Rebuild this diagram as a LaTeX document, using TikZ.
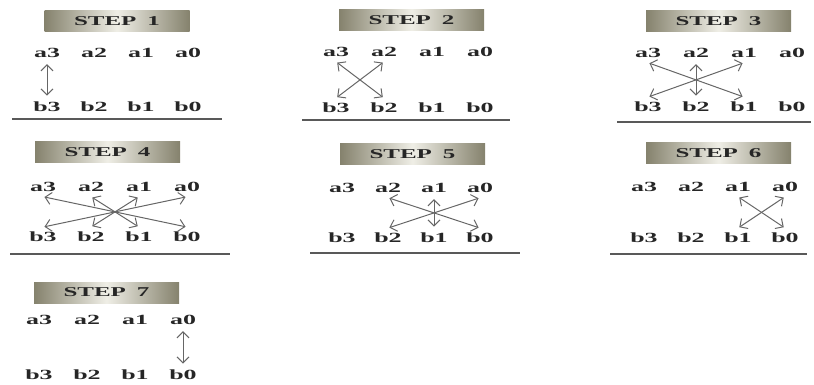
\documentclass[tikz,border=0pt]{standalone}
\usepackage{fontspec}
\usetikzlibrary{arrows.meta}
\newfontfamily\stepfont[FakeStretch=1.85]{Liberation Serif}
\definecolor{boxedge}{HTML}{85826D}
\definecolor{boxmid}{HTML}{EFEEE6}
\definecolor{inkgray}{HTML}{262626}
\definecolor{arrowgray}{HTML}{666666}
\tikzset{
  steptitle/.style={minimum width=145pt,minimum height=21pt,inner sep=0pt,
    left color=boxedge,right color=boxedge,middle color=boxmid,
    font=\stepfont\bfseries\fontsize{13.5}{14}\selectfont,text=inkgray},
  bitlabel/.style={inner sep=1.5pt,outer ysep=3.5pt,
    font=\stepfont\bfseries\fontsize{14}{15}\selectfont,text=inkgray},
  swaparrow/.style={draw=arrowgray,line width=1pt,
    {Straight Barb[length=6pt,width=12pt]}-{Straight Barb[length=6pt,width=12pt]},
    shorten <=1.5pt,shorten >=1.5pt},
  steprule/.style={draw=gray!70!black,line width=1.2pt}
}
\begin{document}
\begin{tikzpicture}[x=1pt,y=-1pt]
  \useasboundingbox (0,0) rectangle (814,385);
  % step 1
  \begin{scope}[xshift=0pt]
    \node[steptitle] (t1) at (117,21) {STEP\hspace{11pt}1};
    \foreach \i/\n in {0/3,1/2,2/1,3/0}{
      \node[bitlabel] (s1a\n) at ({47+47*\i},53) {a\n};
      \node[bitlabel] (s1b\n) at ({47+47*\i},107) {b\n};
    }
    \draw[swaparrow] (s1a3.south) -- (s1b3.north);
    \draw[steprule] (12,119) -- (222,119);
  \end{scope}
  % step 2
  \begin{scope}[xshift=280pt]
    \node[steptitle] (t2) at (131.5,20) {STEP\hspace{11pt}2};
    \foreach \i/\n in {0/3,1/2,2/1,3/0}{
      \node[bitlabel] (s2a\n) at ({56+48*\i},52) {a\n};
      \node[bitlabel] (s2b\n) at ({56+48*\i},108) {b\n};
    }
    \draw[swaparrow] (s2a3.south) -- (s2b2.north);
    \draw[swaparrow] (s2a2.south) -- (s2b3.north);
    \draw[steprule] (22,120) -- (230,120);
  \end{scope}
  % step 3
  \begin{scope}[xshift=540pt]
    \node[steptitle] (t3) at (178.5,21) {STEP\hspace{11pt}3};
    \foreach \i/\n in {0/3,1/2,2/1,3/0}{
      \node[bitlabel] (s3a\n) at ({108+48*\i},53) {a\n};
      \node[bitlabel] (s3b\n) at ({108+48*\i},107) {b\n};
    }
    \draw[swaparrow] (s3a3.south) -- (s3b1.north);
    \draw[swaparrow] (s3a1.south) -- (s3b3.north);
    \draw[swaparrow] (s3a2.south) -- (s3b2.north);
    \draw[steprule] (77,122) -- (271,122);
  \end{scope}
  % step 4
  \begin{scope}[xshift=0pt]
    \node[steptitle] (t4) at (107.5,152.5) {STEP\hspace{11pt}4};
    \foreach \i/\n in {0/3,1/2,2/1,3/0}{
      \node[bitlabel] (s4a\n) at ({43+48*\i},187) {a\n};
      \node[bitlabel] (s4b\n) at ({43+48*\i},237) {b\n};
    }
    \draw[swaparrow] (s4a3.south) -- (s4b0.north);
    \draw[swaparrow] (s4a0.south) -- (s4b3.north);
    \draw[swaparrow] (s4a2.south) -- (s4b1.north);
    \draw[swaparrow] (s4a1.south) -- (s4b2.north);
    \draw[steprule] (10,254) -- (230,254);
  \end{scope}
  % step 5
  \begin{scope}[xshift=280pt]
    \node[steptitle] (t5) at (132.5,154) {STEP\hspace{11pt}5};
    \foreach \i/\n in {0/3,1/2,2/1,3/0}{
      \node[bitlabel] (s5a\n) at ({62+46*\i},188) {a\n};
      \node[bitlabel] (s5b\n) at ({62+46*\i},238) {b\n};
    }
    \draw[swaparrow] (s5a2.south) -- (s5b0.north);
    \draw[swaparrow] (s5a0.south) -- (s5b2.north);
    \draw[swaparrow] (s5a1.south) -- (s5b1.north);
    \draw[steprule] (30,253) -- (240,253);
  \end{scope}
  % step 6
  \begin{scope}[xshift=540pt]
    \node[steptitle] (t6) at (178.5,153.5) {STEP\hspace{11pt}6};
    \foreach \i/\n in {0/3,1/2,2/1,3/0}{
      \node[bitlabel] (s6a\n) at ({104+47*\i},187) {a\n};
      \node[bitlabel] (s6b\n) at ({104+47*\i},238) {b\n};
    }
    \draw[swaparrow] (s6a1.south) -- (s6b0.north);
    \draw[swaparrow] (s6a0.south) -- (s6b1.north);
    \draw[steprule] (70,254) -- (267,254);
  \end{scope}
  % step 7
  \begin{scope}[xshift=0pt]
    \node[steptitle] (t7) at (106.5,292.5) {STEP\hspace{11pt}7};
    \foreach \i/\n in {0/3,1/2,2/1,3/0}{
      \node[bitlabel] (s7a\n) at ({39+48*\i},320) {a\n};
      \node[bitlabel] (s7b\n) at ({39+48*\i},375) {b\n};
    }
    \draw[swaparrow] (s7a0.south) -- (s7b0.north);
  \end{scope}
\end{tikzpicture}
\end{document}
